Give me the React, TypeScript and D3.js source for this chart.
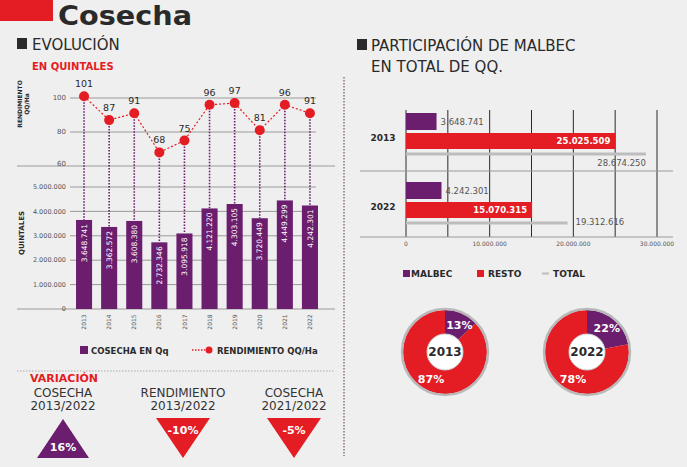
import React from 'react';
import * as d3 from 'd3';

const years = ['2013', '2014', '2015', '2016', '2017', '2018', '2019', '2020', '2021', '2022'];
const cosecha = [3648741, 3362572, 3608380, 2732346, 3095918, 4121220, 4303105, 3720449, 4449299, 4242301];
const rendimiento = [101, 87, 91, 68, 75, 96, 97, 81, 96, 91];
const rendTicks = [100, 80, 60];
const cosechaTicks = [0, 1000000, 2000000, 3000000, 4000000, 5000000];

const partYears = ['2013', '2022'];
const malbec = [3648741, 4242301];
const resto = [25025509, 15070315];
const total = [28674250, 19312616];
const partTicks = [0, 10000000, 20000000, 30000000];
const partGrid = [0, 5000000, 10000000, 15000000, 20000000, 25000000, 30000000];

const malbecPct = [13, 22];
const restoPct = [87, 78];

const varTitles = [['COSECHA', '2013/2022'], ['RENDIMIENTO', '2013/2022'], ['COSECHA', '2021/2022']];
const varValues = [16, -10, -5];

const PURPLE = '#6b1e6e';
const RED = '#e41c23';
const DARK = '#2a2a2a';
const GRAY = '#555';
const GRID = '#9a9a9a';
const BG = '#efefef';
const FONT = '"DejaVu Sans", "Open Sans", sans-serif';

const fmt = (v: number) => d3.format(',')(v).replace(/,/g, '.');

export default function App() {
  // left chart scales
  const x = d3.scaleBand<string>().domain(years).range([71.5, 322.5]).paddingInner(0.36).paddingOuter(0.18);
  const yR = d3.scaleLinear().domain([60, 100]).range([166, 98]);
  const yC = d3.scaleLinear().domain([0, 5000000]).range([309, 187]);
  const cx = (y: string) => (x(y) as number) + x.bandwidth() / 2;
  const line = d3.line<number>().x((_, i) => cx(years[i])).y((d) => yR(d));

  // right chart scales
  const xP = d3.scaleLinear().domain([0, 30000000]).range([406, 657]);
  const groupTop = [113, 182];

  const pie = d3.pie<number>().sort(null).value((d) => d);
  const arc = d3.arc<d3.PieArcDatum<number>>().innerRadius(18).outerRadius(42);
  const donutCx = [445, 587];
  const donutCy = 352;
  const varCx = [63, 183, 294];

  return (
    <svg width={687} height={467} style={{ position: 'absolute', left: 0, top: 0, fontFamily: FONT }}>
      <rect x={0} y={0} width={687} height={467} fill={BG} />
      {/* Title */}
      <rect x={0} y={0} width={53} height={21} fill={RED} />
      <text x={58} y={24.5} fontSize={26} fontWeight={700} fill={DARK} textLength={134} lengthAdjust="spacingAndGlyphs">Cosecha</text>

      {/* Left heading */}
      <rect x={17} y={38} width={10} height={11} fill={DARK} />
      <text x={32} y={50} fontSize={15} fill={DARK}>EVOLUCIÓN</text>
      <text x={32} y={70} fontSize={10} fontWeight={700} fill={RED}>EN QUINTALES</text>

      {/* Axis titles */}
      <text transform="translate(22,104) rotate(-90)" textAnchor="middle" fontSize={6} fontWeight={700} fill={DARK}>RENDIMIENTO</text>
      <text transform="translate(29,104) rotate(-90)" textAnchor="middle" fontSize={6} fontWeight={700} fill={DARK}>QQ/Ha</text>
      <text transform="translate(24,233) rotate(-90)" textAnchor="middle" fontSize={7} fontWeight={700} fill={DARK}>QUINTALES</text>

      {/* Rendimiento grid */}
      {rendTicks.map((t) => (
        <g key={'r' + t}>
          <line x1={t === 60 ? 17 : 70} x2={t === 60 ? 335 : 316} y1={yR(t)} y2={yR(t)} stroke={GRID} strokeWidth={1} />
          <text x={66} y={yR(t) - (t === 60 ? 2 : 0)} dy="0.35em" textAnchor="end" fontSize={7} fill={GRAY}>{t}</text>
        </g>
      ))}
      {/* Cosecha grid */}
      {cosechaTicks.map((t) => (
        <g key={'c' + t}>
          <line x1={t === 0 ? 17 : 70} x2={t === 0 ? 335 : 316} y1={yC(t)} y2={yC(t)} stroke={GRID} strokeWidth={1} />
          <text x={66} y={yC(t)} dy="0.35em" textAnchor="end" fontSize={6.5} fill={GRAY}>{fmt(t)}</text>
        </g>
      ))}

      {/* Bars */}
      {years.map((yr, i) => (
        <g key={'b' + yr}>
          <rect x={x(yr)} y={yC(cosecha[i])} width={x.bandwidth()} height={yC(0) - yC(cosecha[i])} fill={PURPLE} />
          <line x1={cx(yr)} x2={cx(yr)} y1={yR(rendimiento[i])} y2={yC(cosecha[i])} stroke={PURPLE} strokeWidth={1.6} strokeDasharray="1.5 1.5" />
          <text transform={`translate(${cx(yr)},${yC(cosecha[i]) + 4}) rotate(-90)`} textAnchor="end" dy="0.35em" fontSize={7.5} fill="#fff">{fmt(cosecha[i])}</text>
          <text transform={`translate(${cx(yr)},322) rotate(-90)`} textAnchor="middle" dy="0.35em" fontSize={6} fill={GRAY}>{yr}</text>
        </g>
      ))}
      <path d={line(rendimiento) || ''} fill="none" stroke={RED} strokeWidth={1.2} strokeDasharray="2 2" />
      {years.map((yr, i) => (
        <g key={'d' + yr}>
          <circle cx={cx(yr)} cy={yR(rendimiento[i])} r={5} fill={RED} />
          <text x={cx(yr)} y={yR(rendimiento[i]) - 9} textAnchor="middle" fontSize={9.5} fill={DARK}>{rendimiento[i]}</text>
        </g>
      ))}

      {/* Left legend */}
      <rect x={80} y={346} width={8} height={8} fill={PURPLE} />
      <text x={91} y={354} fontSize={8.5} fontWeight={700} fill={DARK}>COSECHA EN Qq</text>
      <line x1={192} x2={205} y1={350} y2={350} stroke={RED} strokeWidth={1.5} strokeDasharray="1.5 1.5" />
      <circle cx={209} cy={350} r={3.5} fill={RED} />
      <text x={217} y={354} fontSize={8.5} fontWeight={700} fill={DARK}>RENDIMIENTO QQ/Ha</text>

      <line x1={17} x2={335} y1={371} y2={371} stroke="#aaa" strokeWidth={1.2} strokeDasharray="1.5 1.5" />

      {/* Variation */}
      <text x={30} y={382} fontSize={11} fontWeight={700} fill={RED}>VARIACIÓN</text>
      {varTitles.map((tt, i) => {
        const c = varCx[i];
        const v = varValues[i];
        const up = v >= 0;
        const pts = up
          ? `${c},419 ${c + 26},458 ${c - 26},458`
          : `${c - 27},418 ${c + 27},418 ${c},458`;
        return (
          <g key={'v' + i}>
            <text x={c} y={397} textAnchor="middle" fontSize={12} fill="#333">{tt[0]}</text>
            <text x={c} y={410} textAnchor="middle" fontSize={12} fill="#333">{tt[1]}</text>
            <polygon points={pts} fill={up ? PURPLE : RED} />
            <text x={c} y={up ? 451 : 434} textAnchor="middle" fontSize={11} fontWeight={700} fill="#fff">{v + '%'}</text>
          </g>
        );
      })}

      {/* Vertical separator */}
      <line x1={344} x2={344} y1={77} y2={456} stroke="#8a6f8c" strokeWidth={1.5} strokeDasharray="1.5 1.5" />

      {/* Right heading */}
      <rect x={357} y={39} width={10} height={11} fill={DARK} />
      <text x={371} y={51} fontSize={15} fill={DARK}>PARTICIPACIÓN DE MALBEC</text>
      <text x={371} y={72} fontSize={15} fill={DARK}>EN TOTAL DE QQ.</text>

      {/* Right bar chart grid */}
      {partGrid.map((t) => (
        <line key={'pg' + t} x1={xP(t)} x2={xP(t)} y1={110} y2={237} stroke={DARK} strokeWidth={1} />
      ))}
      <line x1={360} x2={673} y1={171} y2={171} stroke={GRID} strokeWidth={1.2} />
      <line x1={360} x2={673} y1={237} y2={237} stroke={GRID} strokeWidth={1.2} />
      {partTicks.map((t) => (
        <text key={'pt' + t} x={xP(t)} y={244} dy="0.35em" textAnchor="middle" fontSize={6} fill={GRAY}>{fmt(t)}</text>
      ))}
      {partYears.map((yr, i) => {
        const t0 = groupTop[i];
        return (
          <g key={'p' + yr}>
            <text x={383} y={t0 + 25} dy="0.35em" textAnchor="middle" fontSize={9} fontWeight={700} fill={DARK}>{yr}</text>
            <rect x={xP(0)} y={t0} width={xP(malbec[i]) - xP(0)} height={17} fill={PURPLE} />
            <text x={xP(malbec[i]) + 4} y={t0 + 9} dy="0.35em" fontSize={8.5} fill={GRAY}>{fmt(malbec[i])}</text>
            <rect x={xP(0)} y={t0 + 20} width={xP(resto[i]) - xP(0)} height={16} fill={RED} />
            <text x={xP(resto[i]) - 5} y={t0 + 28} dy="0.35em" textAnchor="end" fontSize={8.5} fontWeight={700} fill="#fff">{fmt(resto[i])}</text>
            <line x1={xP(0)} x2={xP(total[i])} y1={t0 + 41} y2={t0 + 41} stroke="#bdbdbd" strokeWidth={3} />
            {i === 0 ? (
              <text x={xP(total[i])} y={t0 + 50} dy="0.35em" textAnchor="end" fontSize={8.5} fill={GRAY}>{fmt(total[i])}</text>
            ) : (
              <text x={xP(total[i]) + 8} y={t0 + 40} dy="0.35em" fontSize={8.5} fill={GRAY}>{fmt(total[i])}</text>
            )}
          </g>
        );
      })}

      {/* Right legend */}
      <rect x={403} y={270} width={7} height={7} fill={PURPLE} />
      <text x={411} y={277} fontSize={9} fontWeight={700} fill={DARK}>MALBEC</text>
      <rect x={477} y={270} width={7} height={7} fill={RED} />
      <text x={488} y={277} fontSize={9} fontWeight={700} fill={DARK}>RESTO</text>
      <line x1={542} x2={549} y1={273.5} y2={273.5} stroke="#bdbdbd" strokeWidth={2} />
      <text x={553} y={277} fontSize={9} fontWeight={700} fill={DARK}>TOTAL</text>

      {/* Donuts */}
      {partYears.map((yr, i) => {
        const arcs = pie([malbecPct[i], restoPct[i]]);
        const cxx = donutCx[i];
        const lblM = d3.arc<d3.PieArcDatum<number>>().innerRadius(31).outerRadius(31).centroid(arcs[0]);
        return (
          <g key={'dn' + yr} transform={`translate(${cxx},${donutCy})`}>
            {arcs.map((a, j) => (
              <path key={j} d={arc(a) || ''} fill={j === 0 ? PURPLE : RED} />
            ))}
            <circle r={43} fill="none" stroke="#b9b9b9" strokeWidth={2.5} />
            <circle r={18} fill="#fff" stroke="#ccc" strokeWidth={1} />
            <text x={0} y={0} dy="0.35em" textAnchor="middle" fontSize={12} fontWeight={700} fill={DARK}>{yr}</text>
            <text x={lblM[0] + (i === 0 ? 2 : 0)} y={lblM[1] + (i === 0 ? 2 : 0)} dy="0.35em" textAnchor="middle" fontSize={11} fontWeight={700} fill="#fff">{malbecPct[i] + '%'}</text>
            <text x={-14} y={27} dy="0.35em" textAnchor="middle" fontSize={11} fontWeight={700} fill="#fff">{restoPct[i] + '%'}</text>
          </g>
        );
      })}
    </svg>
  );
}
